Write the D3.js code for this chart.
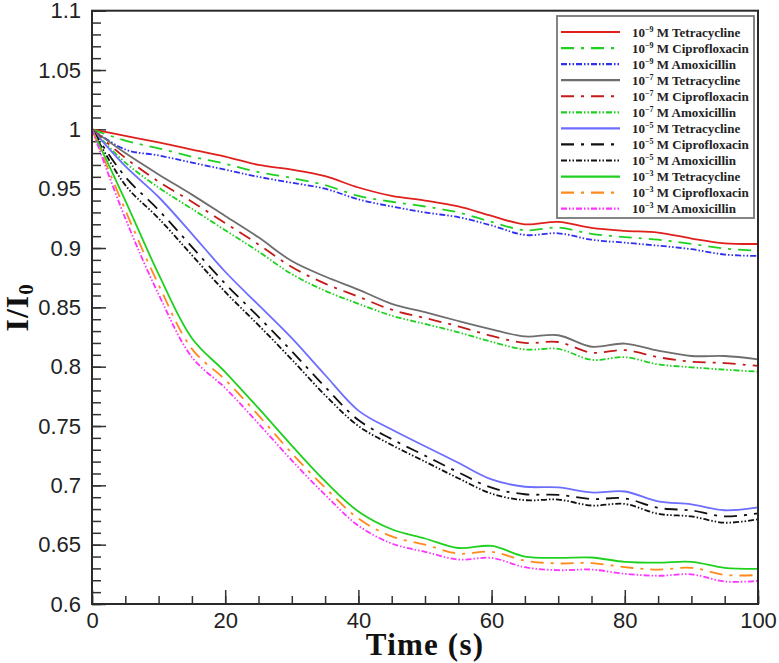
<!DOCTYPE html>
<html>
<head>
<meta charset="utf-8">
<script src="https://cdn.jsdelivr.net/npm/d3@7"></script>
<style>
  body { margin: 0; background: #fff; }
  .tick text { font-family: "Liberation Sans", Arial, sans-serif; font-size: 22px; fill: #222; }
  .axisTitle { font-family: "Liberation Serif", "Times New Roman", serif; font-weight: bold; fill: #111; }
  .legendText { font-family: "Liberation Serif", "Times New Roman", serif; font-weight: bold; font-size: 13px; fill: #222; }
</style>
</head>
<body>
<div class="chart"></div>
<script>
// time points (s)
var time = [0, 5, 10, 15, 20, 25, 30, 35, 40, 45, 50, 55, 60, 65, 70, 75, 80, 85, 90, 95, 100];

// I/I0
var tetra9 = [1, 0.9945, 0.989, 0.983, 0.977, 0.970, 0.966, 0.9605, 0.951, 0.944, 0.940, 0.935, 0.927, 0.920, 0.922, 0.917, 0.9145, 0.913, 0.908, 0.904, 0.9034];
var cipro9 = [1, 0.9905, 0.984, 0.977, 0.971, 0.964, 0.959, 0.953, 0.944, 0.939, 0.935, 0.930, 0.922, 0.915, 0.9172, 0.912, 0.9092, 0.907, 0.9035, 0.8995, 0.8978];
var amox9 = [1, 0.983, 0.978, 0.972, 0.966, 0.960, 0.955, 0.950, 0.941, 0.935, 0.930, 0.926, 0.919, 0.911, 0.9124, 0.907, 0.9045, 0.902, 0.899, 0.8945, 0.8933];

var tetra7 = [1, 0.980, 0.962, 0.945, 0.927, 0.909, 0.889, 0.876, 0.865, 0.853, 0.846, 0.8385, 0.8315, 0.8255, 0.8265, 0.8168, 0.8195, 0.8135, 0.809, 0.809, 0.8062];
var cipro7 = [1, 0.976, 0.956, 0.939, 0.921, 0.903, 0.884, 0.870, 0.859, 0.848, 0.841, 0.834, 0.826, 0.820, 0.8208, 0.8118, 0.814, 0.808, 0.8042, 0.803, 0.8006];
var amox7 = [1, 0.972, 0.951, 0.933, 0.915, 0.897, 0.878, 0.864, 0.853, 0.843, 0.836, 0.829, 0.821, 0.8145, 0.815, 0.8058, 0.808, 0.802, 0.7995, 0.7975, 0.7958];

var tetra5 = [1, 0.969, 0.943, 0.912, 0.880, 0.852, 0.824, 0.793, 0.763, 0.747, 0.733, 0.719, 0.705, 0.6988, 0.6983, 0.694, 0.6948, 0.6865, 0.684, 0.679, 0.6815];
var cipro5 = [1, 0.960, 0.932, 0.901, 0.870, 0.842, 0.813, 0.783, 0.755, 0.739, 0.725, 0.711, 0.698, 0.6925, 0.692, 0.6885, 0.689, 0.681, 0.6788, 0.6738, 0.6764];
var amox5 = [1, 0.953, 0.925, 0.894, 0.863, 0.835, 0.806, 0.776, 0.750, 0.734, 0.720, 0.706, 0.693, 0.6875, 0.688, 0.683, 0.6843, 0.676, 0.6738, 0.6685, 0.6714];

var tetra3 = [1, 0.940, 0.878, 0.824, 0.7955, 0.765, 0.7335, 0.7035, 0.678, 0.663, 0.6552, 0.6472, 0.6489, 0.640, 0.6388, 0.6392, 0.6355, 0.6348, 0.6355, 0.6305, 0.6296];
var cipro3 = [1, 0.932, 0.869, 0.815, 0.789, 0.759, 0.727, 0.698, 0.672, 0.657, 0.650, 0.6425, 0.644, 0.6365, 0.6342, 0.6345, 0.631, 0.629, 0.6305, 0.6245, 0.6244];
var amox3 = [1, 0.925, 0.861, 0.808, 0.782, 0.752, 0.721, 0.692, 0.666, 0.651, 0.644, 0.6375, 0.6388, 0.631, 0.6285, 0.629, 0.6255, 0.6238, 0.625, 0.619, 0.6194];

var xTicks = [0, 20, 40, 60, 80, 100];
var yTicks = [0.6, 0.65, 0.7, 0.75, 0.8, 0.85, 0.9, 0.95, 1, 1.05, 1.1];

var series = [
  { exp: "\u22129", name: "Tetracycline", values: tetra9, color: "#e0201c", style: "solid" },
  { exp: "\u22129", name: "Ciprofloxacin", values: cipro9, color: "#1fd11f", style: "dashdot" },
  { exp: "\u22129", name: "Amoxicillin", values: amox9, color: "#2f2ff0", style: "dashdotdot" },
  { exp: "\u22127", name: "Tetracycline", values: tetra7, color: "#6e6e6e", style: "solid" },
  { exp: "\u22127", name: "Ciprofloxacin", values: cipro7, color: "#c41a1a", style: "dashdot" },
  { exp: "\u22127", name: "Amoxicillin", values: amox7, color: "#1fd11f", style: "dashdotdot" },
  { exp: "\u22125", name: "Tetracycline", values: tetra5, color: "#6d6dff", style: "solid" },
  { exp: "\u22125", name: "Ciprofloxacin", values: cipro5, color: "#111111", style: "dashdot" },
  { exp: "\u22125", name: "Amoxicillin", values: amox5, color: "#111111", style: "dashdotdot" },
  { exp: "\u22123", name: "Tetracycline", values: tetra3, color: "#1fd11f", style: "solid" },
  { exp: "\u22123", name: "Ciprofloxacin", values: cipro3, color: "#ff8a1c", style: "dashdot" },
  { exp: "\u22123", name: "Amoxicillin", values: amox3, color: "#ff33ff", style: "dashdotdot" }
];

var dashes = { solid: null, dashdot: "13,7,3,7", dashdotdot: "6,2,1.5,2,1.5,2" };

var svgWidth = 779;
var svgHeight = 663;
var margin = { top: 10.7, right: 21, bottom: 59, left: 92 };
var width = svgWidth - margin.left - margin.right;
var height = svgHeight - margin.top - margin.bottom;

var svg = d3.select(".chart")
  .append("svg")
  .attr("width", svgWidth)
  .attr("height", svgHeight);

var chart = svg.append("g")
  .attr("transform", "translate(" + margin.left + "," + margin.top + ")");

var xScale = d3.scaleLinear().domain([0, 100]).range([0, width]);
var yScale = d3.scaleLinear().domain([0.6, 1.1]).range([height, 0]);

// minor ticks
chart.append("g")
  .attr("transform", "translate(0," + height + ")")
  .call(d3.axisBottom(xScale).tickValues(d3.range(0, 101, 5)).tickSize(-8).tickFormat(""))
  .call(function(g) { g.select(".domain").remove(); });
chart.append("g")
  .call(d3.axisLeft(yScale).tickValues(d3.range(60, 111).map(function(d) { return d / 100; })).tickSize(-9).tickFormat(""))
  .call(function(g) { g.select(".domain").remove(); });

// major ticks + labels
chart.append("g")
  .attr("transform", "translate(0," + height + ")")
  .call(d3.axisBottom(xScale).tickValues(xTicks).tickSize(-14).tickPadding(8).tickFormat(d3.format("d")))
  .call(function(g) { g.select(".domain").remove(); });
chart.append("g")
  .call(d3.axisLeft(yScale).tickValues(yTicks).tickSize(-14).tickPadding(11).tickFormat(function(d) { return String(+d.toFixed(2)); }))
  .call(function(g) { g.select(".domain").remove(); });

chart.selectAll(".tick line").attr("stroke", "#333").attr("stroke-width", 1.5);

// lines
var line = d3.line()
  .x(function(d, i) { return xScale(time[i]); })
  .y(function(d) { return yScale(d); })
  .curve(d3.curveCatmullRom.alpha(0.5));

chart.selectAll(".series")
  .data(series)
  .enter().append("path")
  .attr("class", "series")
  .attr("d", function(s) { return line(s.values); })
  .attr("fill", "none")
  .attr("stroke", function(s) { return s.color; })
  .attr("stroke-width", 1.8)
  .attr("stroke-dasharray", function(s) { return dashes[s.style]; });

// frame
chart.append("rect")
  .attr("width", width)
  .attr("height", height)
  .attr("fill", "none")
  .attr("stroke", "#2a2a2a")
  .attr("stroke-width", 2);

// legend
var legend = svg.append("g").attr("transform", "translate(557,16)");
legend.append("rect")
  .attr("width", 197)
  .attr("height", 202)
  .attr("fill", "#fff")
  .attr("stroke", "#777")
  .attr("stroke-width", 1.8);

var items = legend.selectAll(".item")
  .data(series)
  .enter().append("g")
  .attr("class", "item")
  .attr("transform", function(d, i) { return "translate(0," + (16 + i * 16.06) + ")"; });

items.append("line")
  .attr("x1", 4).attr("x2", 63)
  .attr("stroke", function(s) { return s.color; })
  .attr("stroke-width", 2.2)
  .attr("stroke-dasharray", function(s) { return dashes[s.style]; });

var lt = items.append("text")
  .attr("class", "legendText")
  .attr("x", 75)
  .attr("y", 4.5);
lt.append("tspan").text("10");
lt.append("tspan").attr("dy", -5).attr("font-size", "8px").text(function(s) { return s.exp; });
lt.append("tspan").attr("dy", 5).text(function(s) { return " M " + s.name; });

// axis titles
svg.append("text")
  .attr("class", "axisTitle")
  .attr("x", margin.left + width / 2)
  .attr("y", 655)
  .attr("text-anchor", "middle")
  .attr("font-size", "31px")
  .attr("letter-spacing", "1.2px")
  .text("Time (s)");

var yt = svg.append("text")
  .attr("class", "axisTitle")
  .attr("transform", "translate(28," + (margin.top + height / 2) + ") rotate(-90)")
  .attr("text-anchor", "middle")
  .attr("font-size", "32px")
  .attr("letter-spacing", "1px");
yt.append("tspan").text("I/I");
yt.append("tspan").attr("dy", 5).attr("font-size", "21px").text("0");
</script>
</body>
</html>
